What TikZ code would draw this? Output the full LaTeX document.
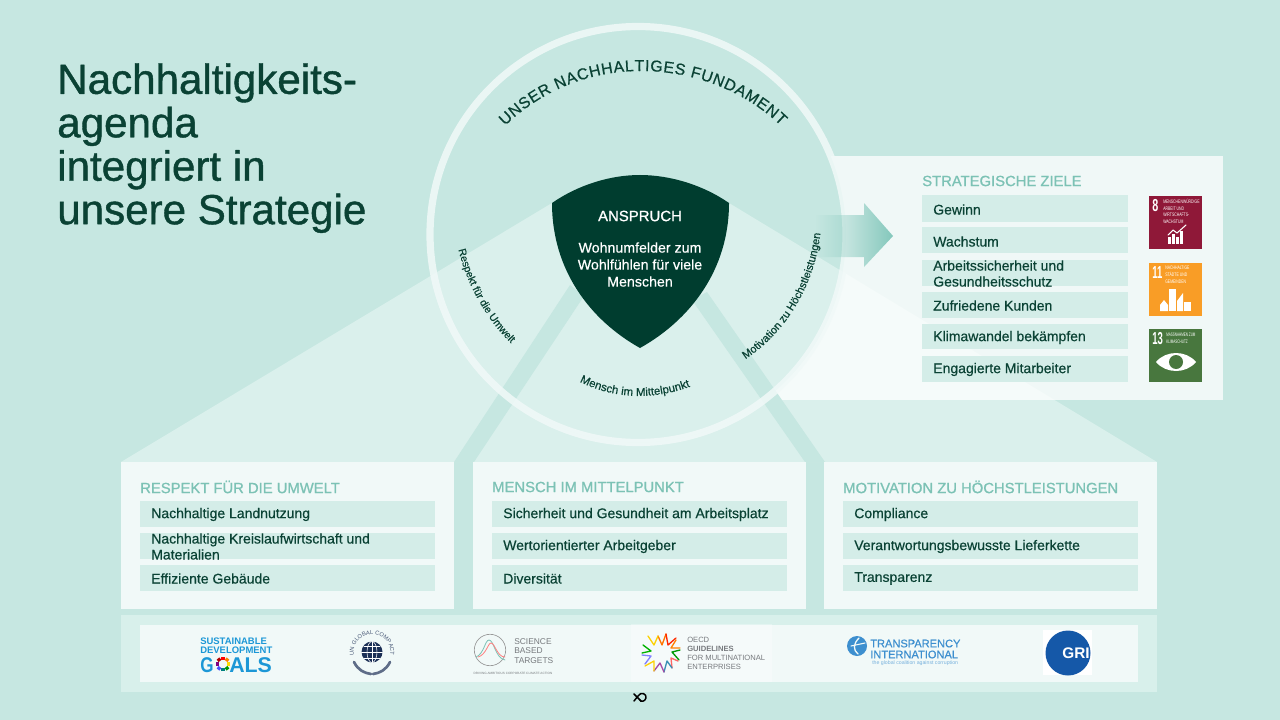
\documentclass[tikz,border=0pt]{standalone}
\usepackage{fontspec}
\usepackage{graphicx}
\setmainfont{Liberation Sans}
\newfontfamily\mittel[FakeBold=0.5]{Liberation Sans}
\newfontfamily\halbfett[FakeBold=1.0]{Liberation Sans}
\usepackage{tikz}
\usetikzlibrary{decorations.text}
\usetikzlibrary{fadings}
\definecolor{grund}{HTML}{C6E7E1}
\definecolor{licht}{HTML}{DAF0EC}
\definecolor{kasten}{HTML}{F1F9F8}
\definecolor{zeilefarbe}{HTML}{D4EDE8}
\definecolor{band}{HTML}{D8F0EB}
\definecolor{petrol}{HTML}{003D2F}
\definecolor{titel}{HTML}{0A4234}
\definecolor{tuerkis}{HTML}{7CC2B5}
\definecolor{pfeil}{HTML}{84C8BC}
\definecolor{sdgblau}{HTML}{1C97D6}
\definecolor{unblau}{HTML}{1B2F55}
\definecolor{tiblau}{HTML}{3D8FCF}
\definecolor{grigrau}{HTML}{777A7E}
\definecolor{griblau}{HTML}{1558A8}
\definecolor{sdgacht}{HTML}{8F1838}
\definecolor{sdgelf}{HTML}{F99D26}
\definecolor{sdgdrei}{HTML}{48773E}
\tikzset{
  zeilebg/.style={fill=zeilefarbe},
  zeile/.style={anchor=west,inner sep=0pt,text=titel,font=\mittel\fontsize{10.5}{12}\selectfont,align=left},
  kopf/.style={anchor=west,inner sep=0pt,text=tuerkis,font=\halbfett\fontsize{11.1}{12}\selectfont},
  bogen/.style={decorate,decoration={text along path,text align=center,text color=titel}},
  logotext/.style={anchor=west,inner sep=0pt,align=left},
  ziffer/.style={anchor=north west,inner sep=0pt,text=white,font=\fontsize{13}{13}\selectfont\bfseries},
  kleintext/.style={logotext,anchor=north west,text=white,font=\fontsize{3.8}{5}\selectfont},
  rad/.style={line width=2.6pt,line cap=butt},
  stern/.style={line width=1pt},
}
\begin{document}
\begin{tikzpicture}[line cap=round,line join=round,x=0.75pt,y=-0.75pt]
\useasboundingbox (0,0) rectangle (1280,720);
\fill[grund] (0,0) rectangle (1280,720);
% fan behind everything
\fill[licht] (121,462)-- (552,203)-- (729,203)-- (1157,462)-- cycle;
\fill[white,opacity=0.75] (775,156) rectangle (1223,400);
% circle
\fill[grund] (638,234.5) circle [radius=208];
\begin{scope}
\clip (638,234.5) circle [radius=208];
\fill[licht] (121,462)-- (552,203)-- (729,203)-- (1157,462)-- cycle;
\end{scope}
\fill[grund] (454,462)-- (474,462)-- (584,296)-- (570,285)-- cycle;
\fill[grund] (805,462)-- (825,462)-- (707,292)-- (692,300)-- cycle;
\draw[kasten,line width=5.4pt,opacity=0.85] (638,234.5) circle [radius=208];
% arrow
\fill[pfeil,path fading=west] (815,215)-- (864,215)-- (864,203)-- (893,236)-- (864,267)-- (864,257)-- (815,257)-- cycle;
% shield
\fill[petrol] (552,203) .. controls (578,185) and (610,175) .. (640,175) .. controls (670,175) and (703,185) .. (729,203) .. controls (729,270) and (690,320) .. (640,348) .. controls (590,320) and (552,270) .. (552,203)-- cycle;
\node[text=white,inner sep=0pt,font=\halbfett\fontsize{11.2}{12}\selectfont] (anspruch) at (640,216) {ANSPRUCH};
\node[text=white,inner sep=0pt,align=center,font=\mittel\fontsize{10.65}{12.75}\selectfont] (wohnen) at (640,264.5) {Wohnumfelder zum\\Wohlfühlen für viele\\Menschen};
% curved texts
\path[bogen,decoration={text={|\mittel\fontsize{11.9}{14}\selectfont|UNSER NACHHALTIGES FUNDAMENT},text align={fit to path}}] (505,126) .. controls (542,90) and (590,71) .. (641,71) .. controls (692,71) and (744,90) .. (781,126);
\path[bogen,decoration={text={|\mittel\fontsize{7.9}{9}\selectfont|Respekt für die Umwelt}}] (457,243) .. controls (465,285) and (490,325) .. (516,348);
\path[bogen,decoration={text={|\mittel\fontsize{8.6}{9}\selectfont|Mensch im Mittelpunkt}}] (578,381) .. controls (615,400) and (655,400) .. (692,386);
\path[bogen,decoration={text={|\mittel\fontsize{8.2}{9}\selectfont|Motivation zu Höchstleistungen}}] (741,362) .. controls (785,335) and (816,285) .. (821,228);
% title
\node[anchor=north west,inner sep=0pt,text=titel,align=left,font=\halbfett\fontsize{31.6}{32.6}\selectfont] (titelblock) at (57,63) {Nachhaltigkeits-\\agenda\\integriert in\\unsere Strategie};
% strategic goals
\node[kopf] (ziele) at (922,181) {STRATEGISCHE ZIELE};
\fill[zeilebg] (922,195) rectangle (1128,222);
\node[zeile] (z1) at (933,209.5) {Gewinn};
\fill[zeilebg] (922,227) rectangle (1128,253);
\node[zeile] (z2) at (933,241.5) {Wachstum};
\fill[zeilebg] (922,260) rectangle (1128,286);
\node[zeile] (z3) at (933,273.5) {Arbeitssicherheit und\\Gesundheitsschutz};
\fill[zeilebg] (922,292) rectangle (1128,318);
\node[zeile] (z4) at (933,305.5) {Zufriedene Kunden};
\fill[zeilebg] (922,324) rectangle (1128,349);
\node[zeile] (z5) at (933,337.5) {Klimawandel bekämpfen};
\fill[zeilebg] (922,356) rectangle (1128,382);
\node[zeile] (z6) at (933,369.5) {Engagierte Mitarbeiter};
% goal 8
\fill[sdgacht] (1149,196) rectangle (1202,249);
\node[ziffer] (acht) at (1152,199) {\scalebox{.62}[1]{8}};
\node[kleintext] (achttext) at (1163,199) {\scalebox{.68}[1]{MENSCHENWÜRDIGE}\\\scalebox{.68}[1]{ARBEIT UND}\\\scalebox{.68}[1]{WIRTSCHAFTS-}\\\scalebox{.68}[1]{WACHSTUM}};
\fill[white] (1168,237) rectangle (1171,244);
\fill[white] (1172,234) rectangle (1175,244);
\fill[white] (1176,237) rectangle (1179,244);
\fill[white] (1180,231) rectangle (1183,244);
\draw[white,line width=0.8pt] (1168,235)-- (1173,230)-- (1177,233)-- (1186,225);
% goal 11
\fill[sdgelf] (1149,263) rectangle (1202,316);
\node[ziffer] (elf) at (1152,266) {\scalebox{.55}[1]{11}};
\node[kleintext] (elftext) at (1165,266) {\scalebox{.68}[1]{NACHHALTIGE}\\\scalebox{.68}[1]{STÄDTE UND}\\\scalebox{.68}[1]{GEMEINDEN}};
\fill[white] (1160,305)-- (1164,300)-- (1168,305)-- (1168,311)-- (1160,311)-- cycle;
\fill[white] (1169,289) rectangle (1176,311);
\fill[white] (1177,301)-- (1183,293)-- (1183,311)-- (1177,311)-- cycle;
\fill[white] (1184,302) rectangle (1191,311);
% goal 13
\fill[sdgdrei] (1149,329) rectangle (1202,382);
\node[ziffer] (dreizehn) at (1152,332) {\scalebox{.55}[1]{13}};
\node[kleintext] (dreitext) at (1166,333) {\scalebox{.6}[1]{MASSNAHMEN ZUM}\\\scalebox{.6}[1]{KLIMASCHUTZ}};
\fill[white] (1156,362) .. controls (1166,350) and (1186,350) .. (1196,362) .. controls (1186,374) and (1166,374) .. (1156,362)-- cycle;
\fill[sdgdrei] (1176,362) circle [radius=7];
% three boxes
\fill[kasten] (121,462) rectangle (454,609);
\fill[kasten] (473,462) rectangle (806,609);
\fill[kasten] (824,462) rectangle (1157,609);
\node[kopf] (umwelt) at (140,487) {RESPEKT FÜR DIE UMWELT};
\fill[zeilebg] (140,501) rectangle (435,527);
\node[zeile] (u1) at (151,514.5) {Nachhaltige Landnutzung};
\fill[zeilebg] (140,533) rectangle (435,559);
\node[zeile] (u2) at (151,546.5) {Nachhaltige Kreislaufwirtschaft und\\Materialien};
\fill[zeilebg] (140,565) rectangle (435,591);
\node[zeile] (u3) at (151,578.5) {Effiziente Gebäude};
\node[kopf] (mensch) at (492,487) {MENSCH IM MITTELPUNKT};
\fill[zeilebg] (492,501) rectangle (787,527);
\node[zeile] (m1) at (503,514.5) {Sicherheit und Gesundheit am Arbeitsplatz};
\fill[zeilebg] (492,533) rectangle (787,559);
\node[zeile] (m2) at (503,546.5) {Wertorientierter Arbeitgeber};
\fill[zeilebg] (492,565) rectangle (787,591);
\node[zeile] (m3) at (503,578.5) {Diversität};
\node[kopf] (motivation) at (843,487) {MOTIVATION ZU HÖCHSTLEISTUNGEN};
\fill[zeilebg] (843,501) rectangle (1138,527);
\node[zeile] (h1) at (854,514.5) {Compliance};
\fill[zeilebg] (843,533) rectangle (1138,559);
\node[zeile] (h2) at (854,546.5) {Verantwortungsbewusste Lieferkette};
\fill[zeilebg] (843,565) rectangle (1138,591);
\node[zeile] (h3) at (854,578.5) {Transparenz};
% logo band
\fill[band] (121,615) rectangle (1157,692);
\fill[kasten] (140,625) rectangle (1138,682);
% sustainable development goals
\node[logotext,text=sdgblau,font=\fontsize{7.1}{6.9}\selectfont\bfseries] (sdg) at (200,645.5) {SUSTAINABLE\\DEVELOPMENT};
\node[logotext,text=sdgblau,font=\fontsize{16}{16}\selectfont\bfseries] (sdgg) at (200,665) {\scalebox{.8}[1]{G}};
\node[logotext,text=sdgblau,font=\fontsize{16}{16}\selectfont\bfseries] (sdgals) at (229,665) {ALS};
\draw[red,rad] (223,657)-- (223,660);
\draw[orange,rad] (228,658.5)-- (226,661);
\draw[yellow!80!orange,rad] (230,664)-- (227,664);
\draw[green!60!black,rad] (228,669.5)-- (226,667);
\draw[teal,rad] (223,671)-- (223,668);
\draw[blue!70!white,rad] (218,669.5)-- (220,667);
\draw[violet,rad] (216,664)-- (219,664);
\draw[red!70!black,rad] (218,658.5)-- (220,661);
% global compact
\fill[unblau] (372,652) circle [radius=10.5];
\draw[white,line width=0.4pt] (372,641.5)-- (372,662.5);
\draw[white,line width=0.4pt] (361.5,652)-- (382.5,652);
\draw[white,line width=0.4pt] (372,652) circle [x radius=5,y radius=10.5];
\draw[white,line width=0.4pt] (364,646)-- (380,646);
\draw[white,line width=0.4pt] (364,658)-- (380,658);
\path[decorate,decoration={text along path,text align=center,text color=unblau!80!white,text={|\fontsize{4.3}{5}\selectfont|UN GLOBAL COMPACT}}] (355,660) .. controls (350,645) and (360,634.5) .. (372,634.5) .. controls (384,634.5) and (394,645) .. (389,660);
\draw[unblau!70!white,line width=2pt] (354,662) .. controls (358,670) and (364,673) .. (371,674);
\draw[unblau!70!white,line width=2pt] (390,662) .. controls (386,670) and (380,673) .. (373,674);
% science based targets
\draw[black!40,line width=0.5pt] (490,650) circle [radius=15.7];
\draw[tuerkis,line width=0.6pt] (476,657) .. controls (484,654) and (485,640) .. (489,640) .. controls (494,640) and (495,658) .. (505,660);
\draw[red!50!white,line width=0.6pt] (478,657) .. controls (486,655) and (488,643) .. (491,643) .. controls (495,643) and (497,657) .. (505,657);
\node[logotext,text=grigrau,font=\fontsize{6.3}{7}\selectfont] (sbt) at (514,651) {SCIENCE\\BASED\\TARGETS};
\node[text=grigrau,inner sep=0pt,font=\fontsize{2.35}{4}\selectfont] (sbtunten) at (513,673) {DRIVING AMBITIOUS CORPORATE CLIMATE ACTION};
% oecd
\fill[white,opacity=0.3] (631,624) rectangle (772,682);
\draw[orange!90!red,stern] (658,636)-- (662,645)-- (666,634);
\draw[yellow!70!orange,stern] (648,636)-- (654,645)-- (658,636);
\draw[red!70!orange,stern] (666,634)-- (668,645)-- (676,638);
\draw[orange,stern] (676,640)-- (671,648)-- (680,648);
\draw[green!60!black,stern] (680,650)-- (672,652)-- (679,660);
\draw[red!60!white,stern] (678,661)-- (671,658)-- (672,668);
\draw[cyan!70!black,stern] (672,668)-- (667,661)-- (664,672);
\draw[violet!70!white,stern] (664,672)-- (660,663)-- (654,671);
\draw[yellow!70!orange,stern] (654,671)-- (654,661)-- (645,666);
\draw[blue!50!white,stern] (645,664)-- (651,656)-- (642,655);
\draw[green!70!black,stern] (642,653)-- (651,651)-- (643,645);
\node[logotext,text=grigrau,font=\fontsize{5.7}{6.9}\selectfont] (oecd) at (687,653.5) {OECD\\\textbf{GUIDELINES}\\FOR MULTINATIONAL\\ENTERPRISES};
% transparency
\fill[tiblau] (857,646) circle [radius=10];
\draw[kasten,line width=1pt] (859,638) .. controls (853,644) and (853,650) .. (858,654);
\draw[kasten,line width=0.8pt] (851,646)-- (865,643);
\node[logotext,text=tiblau,font=\mittel\fontsize{8.3}{8.2}\selectfont] (ti) at (870,649) {TRANSPARENCY\\INTERNATIONAL};
\node[logotext,text=tiblau!70!white,font=\fontsize{3.9}{4}\selectfont] (tiunten) at (872,663.5) {the global coalition against corruption};
% gri
\fill[white] (1043,630) rectangle (1092,675);
\fill[griblau] (1068,653) circle [radius=22.5];
\node[text=white,inner sep=0pt,font=\fontsize{11.5}{12}\selectfont\bfseries] (gri) at (1076,653) {GRI};
% small mark
\draw[black,line width=1.1pt] (634,694)-- (641,701);
\draw[black,line width=1.1pt] (634,701)-- (638,696) .. controls (641,691) and (647,694) .. (646,698) .. controls (645,702) and (640,702) .. (640,700);
\end{tikzpicture}
\end{document}
